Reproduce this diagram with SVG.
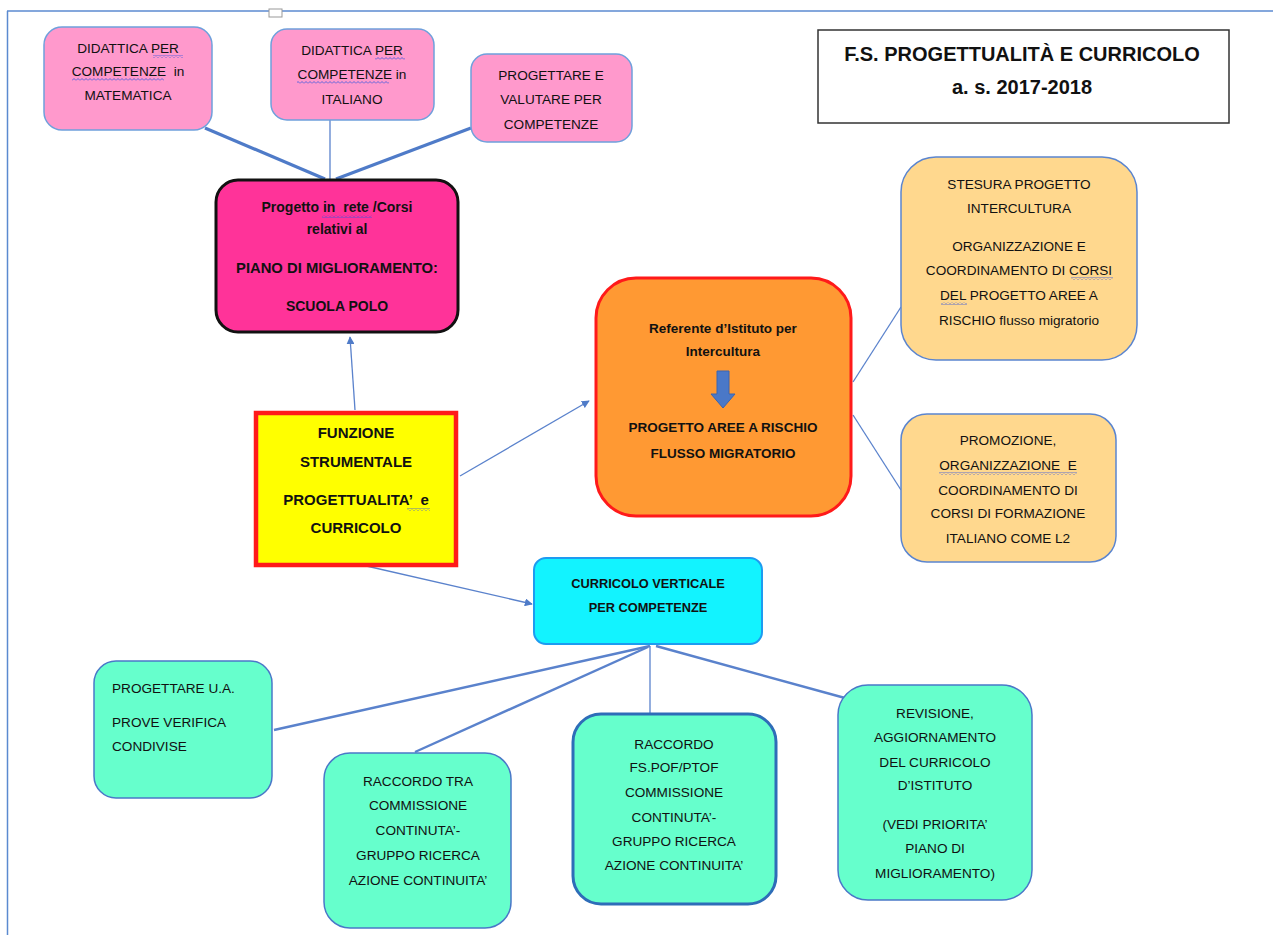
<svg xmlns="http://www.w3.org/2000/svg" width="1273" height="935" viewBox="0 0 1273 935">
<defs>
<style>
text{font-family:"Liberation Sans","DejaVu Sans",Arial,sans-serif;font-size:13.6px;fill:#111;text-anchor:middle;white-space:pre}
.b{font-weight:bold;font-size:14px}
.pink{fill:#FF99CC;stroke:#6FA0DC;stroke-width:1.5}
.peach{fill:#FFD88E;stroke:#5B85CF;stroke-width:1.5}
.green{fill:#66FFCC;stroke:#4A78C8;stroke-width:1.5}
.conn{stroke:#5A82CC;stroke-width:1.3;fill:none}
.thick{stroke:#4F7BC8;stroke-width:3.2;fill:none}
.dbl{stroke:#5A82CC;stroke-width:2.4;fill:none}
.sq{fill:url(#wavy)}
</style>
<pattern id="wavy" width="4" height="3" patternUnits="userSpaceOnUse">
<path d="M0,2.5 L2,0.5 L4,2.5" fill="none" stroke="#3355DD" stroke-width="0.8"/>
</pattern>
<marker id="ah" viewBox="0 0 10 10" refX="9" refY="5" markerWidth="8" markerHeight="8" markerUnits="userSpaceOnUse" orient="auto">
<path d="M0,0 L10,5 L0,10 z" fill="#4F7BC8"/>
</marker>
</defs>
<rect width="1273" height="935" fill="#fff"/>
<g id="frame">
<line x1="7" y1="11" x2="1273" y2="11" stroke="#5B8AD0" stroke-width="1.5"/>
<line x1="7.5" y1="11" x2="7.5" y2="935" stroke="#5B8AD0" stroke-width="1.5"/>
<rect x="269" y="9" width="13" height="8" fill="#fff" stroke="#999" stroke-width="1"/>
</g>
<g id="connectors">
<line class="thick" x1="205" y1="128" x2="325" y2="179"/>
<line class="conn" x1="330" y1="120" x2="330" y2="179"/>
<line class="thick" x1="471" y1="128" x2="336" y2="179"/>
<line class="conn" x1="355" y1="410" x2="350" y2="337" marker-end="url(#ah)"/>
<line class="conn" x1="460" y1="476" x2="589" y2="401" marker-end="url(#ah)"/>
<line class="conn" x1="362" y1="565" x2="532" y2="604" marker-end="url(#ah)"/>
<line class="conn" x1="853" y1="382" x2="901" y2="307"/>
<line class="conn" x1="853" y1="415" x2="901" y2="490"/>
<line class="dbl" x1="650" y1="646" x2="274" y2="730"/>
<line class="dbl" x1="648" y1="647" x2="415" y2="752"/>
<line class="conn" x1="650" y1="646" x2="650" y2="732"/>
<line class="dbl" x1="656" y1="646" x2="845" y2="698"/>
</g>
<g id="n-matematica">
<rect class="pink" x="44" y="27" width="168" height="103" rx="18"/>
<text x="128" y="53">DIDATTICA PER</text>
<text x="128" y="76">COMPETENZE  in</text>
<text x="128" y="100">MATEMATICA</text>
<rect class="sq" x="153" y="55" width="30" height="3"/>
<rect class="sq" x="72" y="78" width="92" height="3"/>
</g>
<g id="n-italiano">
<rect class="pink" x="271" y="29" width="163" height="91" rx="16"/>
<text x="352" y="55">DIDATTICA PER</text>
<text x="352" y="79">COMPETENZE in</text>
<text x="352" y="104">ITALIANO</text>
<rect class="sq" x="375" y="57" width="30" height="3"/>
<rect class="sq" x="297" y="81" width="92" height="3"/>
</g>
<g id="n-progettare">
<rect class="pink" x="471" y="54" width="161" height="88" rx="16"/>
<text x="551" y="80">PROGETTARE E</text>
<text x="551" y="104">VALUTARE PER</text>
<text x="551" y="129">COMPETENZE</text>
</g>
<g id="n-progetto-rete">
<rect x="216" y="180" width="242" height="152" rx="22" fill="#FF3399" stroke="#111" stroke-width="3"/>
<text class="b" x="337" y="212">Progetto in  rete /Corsi</text>
<text class="b" x="337" y="234">relativi al</text>
<text class="b" x="337" y="273" style="font-size:14.8px">PIANO DI MIGLIORAMENTO:</text>
<text class="b" x="337" y="311">SCUOLA POLO</text>
<rect class="sq" x="322" y="215" width="50" height="3"/>
</g>
<g id="n-title">
<rect x="818" y="30" width="411" height="93" fill="#fff" stroke="#333" stroke-width="1.5"/>
<text class="b" x="1022" y="61" style="font-size:20px">F.S. PROGETTUALITÀ E CURRICOLO</text>
<text class="b" x="1022" y="94" style="font-size:20px">a. s. 2017-2018</text>
</g>
<g id="n-referente">
<rect x="596" y="278" width="255" height="238" rx="40" fill="#FF9933" stroke="#FF1A1A" stroke-width="3"/>
<text class="b" x="723" y="333" style="font-size:13.5px">Referente d’Istituto per</text>
<text class="b" x="723" y="356" style="font-size:13.5px">Intercultura</text>
<path d="M717,371 H729 V394 H735 L723,408 L711,394 H717 Z" fill="#4A78C8" stroke="#3A65B0" stroke-width="1"/>
<text class="b" x="723" y="432" style="font-size:13.5px">PROGETTO AREE A RISCHIO</text>
<text class="b" x="723" y="458" style="font-size:13.5px">FLUSSO MIGRATORIO</text>
</g>
<g id="n-stesura">
<rect class="peach" x="901" y="157" width="236" height="203" rx="35"/>
<text x="1019" y="189">STESURA PROGETTO</text>
<text x="1019" y="213">INTERCULTURA</text>
<text x="1019" y="251">ORGANIZZAZIONE E</text>
<text x="1019" y="275">COORDINAMENTO DI CORSI</text>
<text x="1019" y="300">DEL PROGETTO AREE A</text>
<text x="1019" y="325">RISCHIO flusso migratorio</text>
<rect class="sq" x="1071" y="277" width="42" height="3"/>
<rect class="sq" x="941" y="302" width="26" height="3"/>
</g>
<g id="n-promozione">
<rect class="peach" x="901" y="414" width="215" height="148" rx="26"/>
<text x="1008" y="445">PROMOZIONE,</text>
<text x="1008" y="470">ORGANIZZAZIONE  E</text>
<text x="1008" y="495">COORDINAMENTO DI</text>
<text x="1008" y="518">CORSI DI FORMAZIONE</text>
<text x="1008" y="543">ITALIANO COME L2</text>
<rect class="sq" x="939" y="472" width="138" height="3"/>
</g>
<g id="n-funzione">
<rect x="256" y="413" width="200" height="152" fill="#FFFF00" stroke="#FF1A1A" stroke-width="4.5"/>
<text class="b" x="356" y="438" style="font-size:15px">FUNZIONE</text>
<text class="b" x="356" y="467" style="font-size:15px">STRUMENTALE</text>
<text class="b" x="356" y="505" style="font-size:15px">PROGETTUALITA’  e</text>
<text class="b" x="356" y="533" style="font-size:15px">CURRICOLO</text>
<rect class="sq" x="407" y="508" width="23" height="3"/>
</g>
<g id="n-curricolo">
<rect x="534" y="558" width="228" height="86" rx="12" fill="#12F3FF" stroke="#1E9BF0" stroke-width="2"/>
<text class="b" x="648" y="588" style="font-size:12.8px">CURRICOLO VERTICALE</text>
<text class="b" x="648" y="612" style="font-size:12.8px">PER COMPETENZE</text>
</g>
<g id="n-progettare-ua">
<rect class="green" x="94" y="661" width="178" height="137" rx="22"/>
<text x="112" y="693" style="text-anchor:start">PROGETTARE U.A.</text>
<text x="112" y="727" style="text-anchor:start">PROVE VERIFICA</text>
<text x="112" y="751" style="text-anchor:start">CONDIVISE</text>
</g>
<g id="n-raccordo-tra">
<rect class="green" x="324" y="753" width="187" height="175" rx="26"/>
<text x="418" y="786">RACCORDO TRA</text>
<text x="418" y="810">COMMISSIONE</text>
<text x="418" y="835">CONTINUTA’-</text>
<text x="418" y="860">GRUPPO RICERCA</text>
<text x="418" y="885">AZIONE CONTINUITA’</text>
</g>
<g id="n-raccordo-fs">
<rect x="573" y="714" width="203" height="190" rx="28" fill="#66FFCC" stroke="#2E6DB8" stroke-width="3"/>
<text x="674" y="749">RACCORDO</text>
<text x="674" y="772">FS.POF/PTOF</text>
<text x="674" y="797">COMMISSIONE</text>
<text x="674" y="822">CONTINUTA’-</text>
<text x="674" y="846">GRUPPO RICERCA</text>
<text x="674" y="870">AZIONE CONTINUITA’</text>
</g>
<g id="n-revisione">
<rect class="green" x="838" y="685" width="194" height="215" rx="30"/>
<text x="935" y="718">REVISIONE,</text>
<text x="935" y="742">AGGIORNAMENTO</text>
<text x="935" y="767">DEL CURRICOLO</text>
<text x="935" y="790">D’ISTITUTO</text>
<text x="935" y="829">(VEDI PRIORITA’</text>
<text x="935" y="853">PIANO DI</text>
<text x="935" y="878">MIGLIORAMENTO)</text>
</g>
</svg>
